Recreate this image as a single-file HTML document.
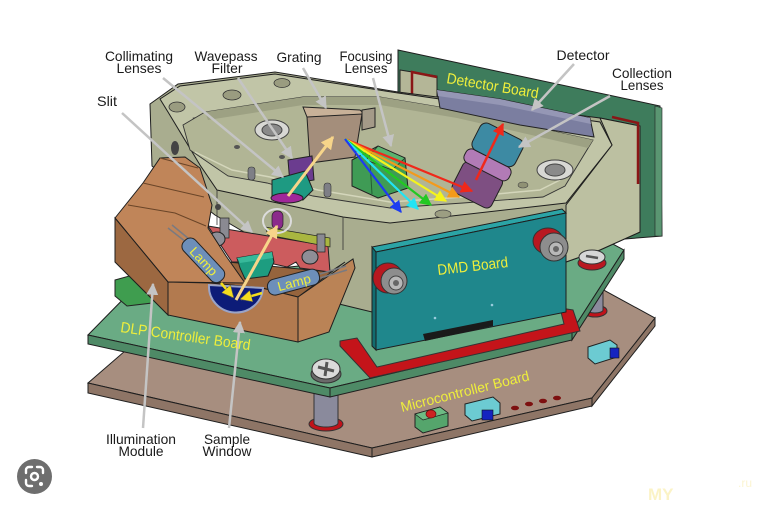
<!DOCTYPE html>
<html><head><meta charset="utf-8"><style>
html,body{margin:0;padding:0;background:#fff;}
svg{display:block}
text{font-family:"Liberation Sans",Arial,sans-serif;}
</style></head><body>
<svg width="767" height="511" viewBox="0 0 767 511" xmlns="http://www.w3.org/2000/svg">
<defs>
<marker id="mg" viewBox="0 0 10 10" refX="9" refY="5" markerWidth="12" markerHeight="12" markerUnits="userSpaceOnUse" orient="auto"><path d="M0,0L10,5L0,10z" fill="#c4c4c4"/></marker>
<marker id="mp" viewBox="0 0 10 10" refX="9" refY="5" markerWidth="13" markerHeight="13" markerUnits="userSpaceOnUse" orient="auto"><path d="M0,0L10,5L0,10z" fill="#f7d58a"/></marker>
<marker id="my" viewBox="0 0 10 10" refX="9" refY="5" markerWidth="12" markerHeight="12" markerUnits="userSpaceOnUse" orient="auto"><path d="M0,0L10,5L0,10z" fill="#f3dc1e" stroke="#555" stroke-width="0.5"/></marker>
<marker id="mb" viewBox="0 0 10 10" refX="9" refY="5" markerWidth="12" markerHeight="12" markerUnits="userSpaceOnUse" orient="auto"><path d="M0,0L10,5L0,10z" fill="#1e3cf0"/></marker>
<marker id="mc" viewBox="0 0 10 10" refX="9" refY="5" markerWidth="12" markerHeight="12" markerUnits="userSpaceOnUse" orient="auto"><path d="M0,0L10,5L0,10z" fill="#22e4f4"/></marker>
<marker id="mgr" viewBox="0 0 10 10" refX="9" refY="5" markerWidth="12" markerHeight="12" markerUnits="userSpaceOnUse" orient="auto"><path d="M0,0L10,5L0,10z" fill="#22c822"/></marker>
<marker id="myl" viewBox="0 0 10 10" refX="9" refY="5" markerWidth="12" markerHeight="12" markerUnits="userSpaceOnUse" orient="auto"><path d="M0,0L10,5L0,10z" fill="#f4f41c"/></marker>
<marker id="mo" viewBox="0 0 10 10" refX="9" refY="5" markerWidth="12" markerHeight="12" markerUnits="userSpaceOnUse" orient="auto"><path d="M0,0L10,5L0,10z" fill="#f49a1a"/></marker>
<marker id="mr" viewBox="0 0 10 10" refX="9" refY="5" markerWidth="12" markerHeight="12" markerUnits="userSpaceOnUse" orient="auto"><path d="M0,0L10,5L0,10z" fill="#f0281a"/></marker>
</defs>
<rect width="767" height="511" fill="#fff"/>

<!-- base (microcontroller) board -->
<polygon points="88,383 155,325 600,288 655,318 592,398 372,448" fill="#a78e7f" stroke="#1e1e1e"/>
<polygon points="88,383 372,448 372,457 88,393" fill="#8e7566" stroke="#1e1e1e"/>
<polygon points="372,448 592,398 592,406 372,457" fill="#8e7566" stroke="#1e1e1e"/>
<polygon points="592,398 655,318 655,326 592,406" fill="#8e7566" stroke="#1e1e1e"/>

<!-- components on base board -->
<polygon points="415,414 440,407 448,413 448,426 423,433 415,427" fill="#55a56c" stroke="#222"/>
<polygon points="415,414 440,407 448,413 423,420" fill="#6dbb84" stroke="#222" stroke-width="0.7"/>
<ellipse cx="431" cy="414" rx="5" ry="4" fill="#cc2222" stroke="#661010" stroke-width="0.7"/>
<polygon points="465,404 493,397 500,403 500,414 472,421 465,415" fill="#6ccbd2" stroke="#222"/>
<rect x="482" y="410" width="11" height="10" fill="#1424c0" stroke="#111" stroke-width="0.6"/>
<ellipse cx="515" cy="408" rx="4" ry="2.3" fill="#7d1010"/>
<ellipse cx="529" cy="404" rx="4" ry="2.3" fill="#7d1010"/>
<ellipse cx="543" cy="401" rx="4" ry="2.3" fill="#7d1010"/>
<ellipse cx="557" cy="398" rx="4" ry="2.3" fill="#7d1010"/>
<polygon points="588,347 610,340 617,345 617,357 595,364 588,358" fill="#6ccbd2" stroke="#222"/>
<rect x="610" y="348" width="9" height="10" fill="#1424c0" stroke="#111" stroke-width="0.6"/>

<!-- standoffs -->
<ellipse cx="326" cy="424" rx="17" ry="7" fill="#c0121a" stroke="#333"/>
<path d="M314,390 L314,423 A12,4 0 0 0 338,423 L338,390 Z" fill="#8a8a9c" stroke="#333"/>
<ellipse cx="595" cy="311" rx="12" ry="6" fill="#c0121a" stroke="#333"/>
<path d="M587,284 L587,310 A8,3 0 0 0 603,310 L603,284 Z" fill="#8a8a9c" stroke="#333"/>

<!-- DLP controller board (green) -->
<polygon points="88,335 140,282 598,236 624,250 572,331 330,388" fill="#6aab84" stroke="#1e1e1e"/>
<polygon points="88,335 330,388 330,397 88,344" fill="#4e8a66" stroke="#1e1e1e"/>
<polygon points="330,388 572,331 572,340 330,397" fill="#4e8a66" stroke="#1e1e1e"/>
<polygon points="572,331 624,250 624,259 572,340" fill="#4e8a66" stroke="#1e1e1e"/>
<polygon points="115,280 140,273 152,283 152,303 127,306 115,296" fill="#3f9d4f" stroke="#222"/>

<!-- detector board -->
<polygon points="398,50 660,106 662,236 612,240 398,170" fill="#3e7c5c" stroke="#1e1e1e"/>
<polygon points="655,106 662,108 662,236 655,236" fill="#5a9672" stroke="#222" stroke-width="0.6"/>
<polygon points="400,70 437,76 437,112 400,106" fill="#b4b697" stroke="#222"/>
<polyline points="412,97 412,72 437,77" fill="none" stroke="#8a1616" stroke-width="2.5"/>

<!-- housing body -->
<polygon points="150,104 178,84 275,72 398,92 600,118 640,126 640,232 600,250 566,262 372,312 335,303 300,265 215,215 152,166" fill="#a9ad8f" stroke="#1e1e1e"/>
<polygon points="600,118 640,126 640,232 600,250 566,262 566,205 612,145" fill="#bcc0a1" stroke="#1e1e1e"/>
<polyline points="612,117 638,123 638,184" fill="none" stroke="#8a1616" stroke-width="2.5"/>
<!-- top plate -->
<polygon points="160,99 180,86 275,74 398,93 600,122 612,145 566,203 390,223 343,217 217,190 200,165 168,112" fill="#c1c5a7" stroke="#1e1e1e"/>
<line x1="217" y1="190" x2="217" y2="225" stroke="#333" stroke-width="0.8"/>
<line x1="343" y1="217" x2="343" y2="250" stroke="#333" stroke-width="0.8"/>
<ellipse cx="175" cy="148" rx="4" ry="7" fill="#444"/>
<ellipse cx="218" cy="207" rx="3" ry="3" fill="#444"/>
<polygon points="193,118 298,101 300,107 196,124" fill="#8f9174" stroke="#333" stroke-width="0.6"/>
<ellipse cx="177" cy="107" rx="8" ry="5" fill="#9a9c80" stroke="#333" stroke-width="0.8"/>
<ellipse cx="232" cy="95" rx="9" ry="5" fill="#9a9c80" stroke="#333" stroke-width="0.8"/>
<ellipse cx="282" cy="83" rx="8" ry="4.5" fill="#9a9c80" stroke="#333" stroke-width="0.8"/>
<!-- cavity -->
<polygon points="183,125 205,112 303,97 380,97 457,110 593,140 565,186 543,197 463,203 390,208 313,196 267,183 228,176 190,150" fill="#b1b595" stroke="#333" stroke-width="0.9"/>
<polygon points="205,112 303,97 380,97 457,110 593,140 588,148 457,118 380,105 303,105 208,120" fill="#9da183"/>
<polyline points="195,152 232,170 270,177 318,190 390,202 463,197 540,190 560,180" fill="none" stroke="#d4d6bb" stroke-width="1.5"/>
<ellipse cx="272" cy="130" rx="17" ry="10" fill="#d8d8d4" stroke="#444"/>
<ellipse cx="272" cy="130" rx="10" ry="6" fill="#8a8a8a" stroke="#444"/>
<ellipse cx="555" cy="170" rx="18" ry="10" fill="#d8d8d4" stroke="#444"/>
<ellipse cx="555" cy="170" rx="10" ry="6" fill="#8a8a8a" stroke="#444"/>
<ellipse cx="523" cy="185" rx="5" ry="3" fill="#8f9174" stroke="#444" stroke-width="0.6"/>
<ellipse cx="443" cy="214" rx="8" ry="4" fill="#9c9e82" stroke="#444" stroke-width="0.7"/>
<ellipse cx="237" cy="147" rx="3" ry="2" fill="#555"/>
<ellipse cx="282" cy="157" rx="3" ry="2" fill="#555"/>
<rect x="248" y="167" width="7" height="13" rx="3" fill="#7e7f86" stroke="#333" stroke-width="0.6"/>
<rect x="324" y="183" width="7" height="14" rx="3" fill="#7e7f86" stroke="#333" stroke-width="0.6"/>

<!-- detector -->
<polygon points="437,90 500,99 590,118 594,137 520,125 440,108" fill="#7b7ea0" stroke="#222"/>
<polygon points="437,90 500,99 590,118 591,124 500,105 438,96" fill="#9597b5"/>
<!-- collection lenses -->
<g transform="translate(490,160) rotate(-63)">
<rect x="-45" y="-22" width="34" height="44" rx="6" fill="#7e4f82" stroke="#222"/>
<rect x="-13" y="-25" width="15" height="50" rx="6" fill="#b27bb6" stroke="#222"/>
<rect x="2" y="-24" width="30" height="48" rx="7" fill="#3d8aa3" stroke="#222"/>
</g>
<line x1="476" y1="180" x2="503" y2="124" stroke="#f0281a" stroke-width="2.5" marker-end="url(#mr)"/>

<!-- grating -->
<polygon points="303,107 360,110 368,117 307,117" fill="#c8b198" stroke="#222"/>
<polygon points="307,117 362,114 355,157 310,163" fill="#a48e7b" stroke="#222"/>
<polygon points="362,110 375,108 375,127 362,130" fill="#a49a88" stroke="#222"/>
<!-- focusing lenses -->
<polygon points="352,160 378,146 405,158 408,188 378,198 352,186" fill="#3f9b55" stroke="#222"/>
<polygon points="378,146 405,158 392,170 366,160" fill="#5ab36e" stroke="#222" stroke-width="0.7"/>
<line x1="370" y1="162" x2="372" y2="194" stroke="#245e34"/>
<!-- wavepass filter -->
<polygon points="288,160 312,156 314,180 290,184" fill="#6b3c8f" stroke="#222"/>
<!-- collimating lens -->
<polygon points="272,180 305,171 313,190 303,200 272,200" fill="#1e9a82" stroke="#222"/>
<ellipse cx="287" cy="198" rx="16" ry="5" fill="#a0289a" stroke="#222"/>

<!-- light arrows -->
<line x1="288" y1="196" x2="333" y2="137" stroke="#f7d58a" stroke-width="3" marker-end="url(#mp)"/>
<line x1="345" y1="139" x2="472" y2="191" stroke="#f0281a" stroke-width="2.2" marker-end="url(#mr)"/>
<line x1="345" y1="139" x2="459" y2="197" stroke="#f49a1a" stroke-width="2.2" marker-end="url(#mo)"/>
<line x1="345" y1="139" x2="446" y2="201" stroke="#f4f41c" stroke-width="2.2" marker-end="url(#myl)"/>
<line x1="345" y1="139" x2="431" y2="205" stroke="#22c822" stroke-width="2.2" marker-end="url(#mgr)"/>
<line x1="345" y1="139" x2="418" y2="209" stroke="#22e4f4" stroke-width="2.2" marker-end="url(#mc)"/>
<line x1="345" y1="139" x2="401" y2="212" stroke="#1e3cf0" stroke-width="2.2" marker-end="url(#mb)"/>

<!-- slit holder -->
<polygon points="228,262 330,272 345,262 298,297 262,288 210,283" fill="#96643d" stroke="#222"/>
<polygon points="208,226 328,246 330,272 300,268 296,262 287,267 265,262 232,262" fill="#cc5c5e" stroke="#222"/>
<polygon points="265,227 330,238 330,247 268,235" fill="#a9b640" stroke="#222" stroke-width="0.7"/>
<ellipse cx="277" cy="221" rx="14" ry="12" fill="none" stroke="#dcdcdc" stroke-width="2"/>
<rect x="272" y="211" width="11" height="18" rx="5" fill="#8b2b8b" stroke="#222" stroke-width="0.7"/>
<rect x="220" y="218" width="9" height="20" fill="#8a8a92" stroke="#222" stroke-width="0.7"/>
<ellipse cx="217" cy="239" rx="8" ry="7" fill="#8e8e96" stroke="#222"/>
<rect x="317" y="234" width="8" height="18" fill="#8a8a92" stroke="#222" stroke-width="0.7"/>
<ellipse cx="310" cy="257" rx="8" ry="7" fill="#8e8e96" stroke="#222"/>
<polygon points="237,258 272,252 274,262 268,276 245,279 240,268" fill="#1d9d80" stroke="#222"/>
<polygon points="237,258 272,252 273,258 240,263" fill="#37b99a"/>

<!-- illumination module -->
<polygon points="115,218 143,183 160,158 185,157 200,168 212,205 208,228 226,256 245,283 168,282" fill="#c08559" stroke="#1e1e1e"/>
<polyline points="143,183 204,197" fill="none" stroke="#6a4528"/>
<polyline points="160,158 198,168" fill="none" stroke="#6a4528"/>
<polyline points="128,205 175,213 206,226" fill="none" stroke="#6a4528"/>
<polygon points="115,218 168,282 168,315 115,262" fill="#9c6841" stroke="#1e1e1e"/>
<polygon points="168,282 210,283 262,288 298,297 298,342 168,315" fill="#b27a4f" stroke="#1e1e1e"/>
<polygon points="298,297 353,259 355,268 329,332 298,342" fill="#ba8356" stroke="#1e1e1e"/>
<path d="M209,285 A27,26 0 0 0 263,288 Z" fill="#0d1c78" stroke="#9aa4c8" stroke-width="2"/>
<!-- lamps -->
<line x1="186" y1="242" x2="168" y2="228" stroke="#7a7a80" stroke-width="1.5"/>
<line x1="189" y1="239" x2="172" y2="225" stroke="#7a7a80" stroke-width="1.5"/>
<g transform="translate(204,261) rotate(47)">
<rect x="-28" y="-8" width="54" height="16" rx="7" fill="#6d8fba" stroke="#222"/>
<text x="-17" y="5" font-size="13" fill="#eeee3c" textLength="34" lengthAdjust="spacingAndGlyphs">Lamp</text>
</g>
<line x1="320" y1="274" x2="346" y2="266" stroke="#7a7a80" stroke-width="1.5"/>
<line x1="320" y1="278" x2="347" y2="270" stroke="#7a7a80" stroke-width="1.5"/>
<g transform="translate(294,282) rotate(-15)">
<rect x="-27" y="-8" width="53" height="16" rx="7" fill="#6d8fba" stroke="#222"/>
<text x="-17" y="5" font-size="13" fill="#eeee3c" textLength="34" lengthAdjust="spacingAndGlyphs">Lamp</text>
</g>
<line x1="221" y1="283" x2="233" y2="297" stroke="#f3dc1e" stroke-width="2.5" marker-end="url(#my)"/>
<line x1="262" y1="293" x2="241" y2="299" stroke="#f3dc1e" stroke-width="2.5" marker-end="url(#my)"/>
<line x1="236" y1="300" x2="277" y2="226" stroke="#f7d58a" stroke-width="3" marker-end="url(#mp)"/>

<!-- red L on DLP board -->
<polygon points="340,341 357,338 377,367 564,324 560,308 573,310 580,331 370,378 340,346" fill="#c4141a" stroke="#333"/>
<!-- DMD board -->
<polygon points="372,247 562,209 566,213 376,252" fill="#2ba4a6" stroke="#1e1e1e"/>
<polygon points="376,252 566,213 566,312 376,350" fill="#1f878c" stroke="#1e1e1e"/>
<polygon points="372,247 376,252 376,350 372,346" fill="#126c70" stroke="#1e1e1e"/>
<polygon points="423,334 493,320 493,326 425,341" fill="#1a1a1a"/>
<circle cx="435" cy="318" r="1.3" fill="#9cd"/>
<circle cx="492" cy="305" r="1.3" fill="#9cd"/>
<ellipse cx="388" cy="278" rx="15" ry="15" fill="#b81820" stroke="#333"/>
<circle cx="394" cy="281" r="13" fill="#8d8d8d" stroke="#333"/>
<circle cx="396" cy="283" r="7" fill="#b8b8b8" stroke="#444"/>
<circle cx="396" cy="283" r="3" fill="#666"/>
<ellipse cx="548" cy="241" rx="15" ry="13" fill="#b81820" stroke="#333"/>
<circle cx="554" cy="247" r="14" fill="#8d8d8d" stroke="#333"/>
<circle cx="556" cy="249" r="7" fill="#b8b8b8" stroke="#444"/>
<circle cx="556" cy="249" r="3" fill="#666"/>
<!-- screws on green board -->
<ellipse cx="326" cy="374" rx="15" ry="9" fill="#6a6a6a" stroke="#333"/>
<ellipse cx="326" cy="369" rx="14" ry="10" fill="#dadada" stroke="#333"/>
<path d="M318,367 L334,371 M327,362 L325,376" stroke="#555" stroke-width="3"/>
<ellipse cx="592" cy="263" rx="14" ry="7" fill="#b81820" stroke="#333"/>
<ellipse cx="592" cy="257" rx="13" ry="7" fill="#d6d6d6" stroke="#333"/>
<path d="M586,256 L598,258" stroke="#555" stroke-width="2.5"/>

<!-- pointer lines -->
<g stroke="#c4c4c4" stroke-width="2.5" fill="none">
<line x1="163" y1="78" x2="283" y2="177" marker-end="url(#mg)"/>
<line x1="238" y1="78" x2="292" y2="158" marker-end="url(#mg)"/>
<line x1="303" y1="68" x2="326" y2="108" marker-end="url(#mg)"/>
<line x1="373" y1="78" x2="391" y2="146" marker-end="url(#mg)"/>
<line x1="122" y1="113" x2="252" y2="232" marker-end="url(#mg)"/>
<line x1="574" y1="64" x2="532" y2="110" marker-end="url(#mg)"/>
<line x1="610" y1="96" x2="519" y2="147" marker-end="url(#mg)"/>
<line x1="143" y1="428" x2="153" y2="284" marker-end="url(#mg)"/>
<line x1="229" y1="428" x2="240" y2="322" marker-end="url(#mg)"/>
</g>

<!-- black labels -->
<g font-size="14" fill="#1a1a1a" text-anchor="middle">
<text x="139" y="61" textLength="68" lengthAdjust="spacingAndGlyphs">Collimating</text>
<text x="139" y="73" textLength="45" lengthAdjust="spacingAndGlyphs">Lenses</text>
<text x="226" y="61" textLength="63" lengthAdjust="spacingAndGlyphs">Wavepass</text>
<text x="227" y="73" textLength="31" lengthAdjust="spacingAndGlyphs">Filter</text>
<text x="299" y="62" textLength="45" lengthAdjust="spacingAndGlyphs">Grating</text>
<text x="366" y="61" textLength="53" lengthAdjust="spacingAndGlyphs">Focusing</text>
<text x="366" y="73" textLength="43" lengthAdjust="spacingAndGlyphs">Lenses</text>
<text x="107" y="106" textLength="20" lengthAdjust="spacingAndGlyphs">Slit</text>
<text x="583" y="60" textLength="53" lengthAdjust="spacingAndGlyphs">Detector</text>
<text x="642" y="78" textLength="60" lengthAdjust="spacingAndGlyphs">Collection</text>
<text x="642" y="90" textLength="43" lengthAdjust="spacingAndGlyphs">Lenses</text>
<text x="141" y="444" textLength="70" lengthAdjust="spacingAndGlyphs">Illumination</text>
<text x="141" y="456" textLength="45" lengthAdjust="spacingAndGlyphs">Module</text>
<text x="227" y="444" textLength="46" lengthAdjust="spacingAndGlyphs">Sample</text>
<text x="227" y="456" textLength="49" lengthAdjust="spacingAndGlyphs">Window</text>
</g>

<!-- yellow labels -->
<g fill="#eeee3c">
<text x="446" y="83" transform="rotate(9.5 446 83)" font-size="15" textLength="93" lengthAdjust="spacingAndGlyphs">Detector Board</text>
<text x="438" y="275" transform="rotate(-6.5 438 275)" font-size="15" textLength="71" lengthAdjust="spacingAndGlyphs">DMD Board</text>
<text x="120" y="332" transform="rotate(8 120 332)" font-size="15" textLength="131" lengthAdjust="spacingAndGlyphs">DLP Controller Board</text>
<text x="402" y="412" transform="rotate(-14 402 412)" font-size="14" textLength="132" lengthAdjust="spacingAndGlyphs">Microcontroller Board</text>
</g>

<!-- watermark -->
<text x="648" y="500" font-size="17" font-weight="bold" fill="#fbf3c6">MY</text>
<text x="738" y="487" font-size="12" fill="#fcf5d2">.ru</text>

<!-- lens icon -->
<circle cx="34.5" cy="476.5" r="17.5" fill="#6e6e6e"/>
<g stroke="#fff" stroke-width="2.4" fill="none" stroke-linecap="round">
<path d="M26,473 v-3 a3,3 0 0 1 3,-3 h3"/>
<path d="M37,467 h3 a3,3 0 0 1 3,3 v3"/>
<path d="M26,480 v3 a3,3 0 0 0 3,3 h3"/>
<circle cx="34.5" cy="476.5" r="3.5"/>
</g>
<circle cx="41" cy="484" r="2" fill="#fff"/>
</svg>
</body></html>
